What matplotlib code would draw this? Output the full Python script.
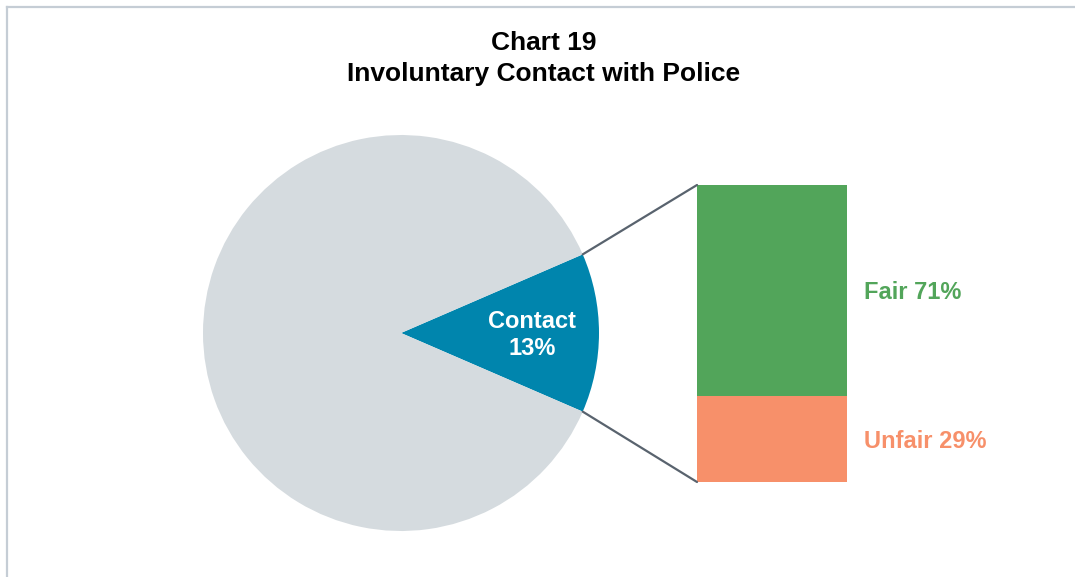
import matplotlib
matplotlib.use("Agg")
import matplotlib.pyplot as plt
from matplotlib.patches import ConnectionPatch
from matplotlib.lines import Line2D
from matplotlib.transforms import offset_copy
import numpy as np

plt.rcParams['font.family'] = ['Liberation Sans', 'DejaVu Sans']

# Data
pie_labels = ["Contact", "No contact"]
pie_values = [13, 87]
bar_labels = ["Unfair", "Fair"]
bar_values = [29, 71]

title_lines = ["Chart 19", "Involuntary Contact with Police"]

C_CONTACT = "#0085AD"
C_REST = "#D5DBDF"
C_FAIR = "#52A55A"
C_UNFAIR = "#F7906A"
C_LINE = "#59636E"
C_BORDER = "#C5CDD5"

W, H = 1075, 577
fig = plt.figure(figsize=(W / 100, H / 100), dpi=100)
fig.patch.set_facecolor("white")

# frame lines (top and left)
fig.add_artist(Line2D([7 / W, 1], [1 - 6.5 / H, 1 - 6.5 / H], color=C_BORDER, lw=1.6,
                      transform=fig.transFigure))
fig.add_artist(Line2D([7 / W, 7 / W], [0, 1 - 6.5 / H], color=C_BORDER, lw=1.6,
                      transform=fig.transFigure))

# title
fig.text(544 / W, 1 - 43 / H, title_lines[0], ha="center", va="center",
         fontsize=19, fontweight="bold", color="black")
fig.text(544 / W, 1 - 74 / H, title_lines[1], ha="center", va="center",
         fontsize=19, fontweight="bold", color="black")

# pie
cx, cy, r = 401, 333, 198
ax_pie = fig.add_axes([(cx - r) / W, (H - cy - r) / H, 2 * r / W, 2 * r / H])
half = pie_values[0] / sum(pie_values) * 360 / 2
wedges, _ = ax_pie.pie(pie_values, colors=[C_CONTACT, C_REST], startangle=-half,
                       counterclock=True, radius=1,
                       wedgeprops=dict(linewidth=0))
ax_pie.set_xlim(-1, 1)
ax_pie.set_ylim(-1, 1)
ax_pie.set_aspect("equal")
ax_pie.axis("off")
ax_pie.text(0.662, -0.01, f"{pie_labels[0]}\n{pie_values[0]}%", ha="center", va="center",
            fontsize=17, fontweight="bold", color="white", linespacing=1.22)

# stacked bar
bx0, bx1, by0, by1 = 697, 847, 185, 482
ax_bar = fig.add_axes([bx0 / W, (H - by1) / H, (bx1 - bx0) / W, (by1 - by0) / H])
bottom = 0
bar_colors = [C_UNFAIR, C_FAIR]
label_tr = offset_copy(ax_bar.transData, fig=fig, x=0, y=-2.5, units="dots")
for lab, val, col in zip(bar_labels, bar_values, bar_colors):
    ax_bar.bar(0, val, bottom=bottom, width=1, color=col, linewidth=0)
    ax_bar.text(0.5 + 17 / 150, bottom + val / 2, f"{lab} {val}%", ha="left", va="center",
                fontsize=17, fontweight="bold", color=col, clip_on=False,
                transform=label_tr)
    bottom += val
ax_bar.set_xlim(-0.5, 0.5)
ax_bar.set_ylim(0, sum(bar_values))
ax_bar.axis("off")

# connector lines from slice edges to bar corners
theta = np.deg2rad(half)
for sgn, ybar in [(1, sum(bar_values)), (-1, 0)]:
    con = ConnectionPatch(xyA=(np.cos(theta), sgn * np.sin(theta)), coordsA=ax_pie.transData,
                          xyB=(-0.5, ybar), coordsB=ax_bar.transData,
                          color=C_LINE, lw=1.6)
    fig.add_artist(con)

fig.savefig("out.png", dpi=100, facecolor="white")
